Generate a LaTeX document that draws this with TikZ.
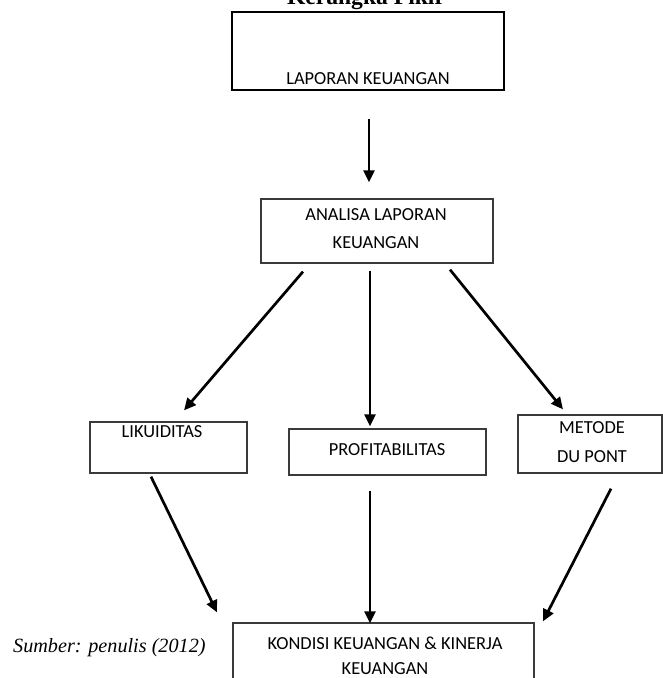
\documentclass[tikz,border=0pt]{standalone}
\usepackage{fontspec}
\setmainfont{Liberation Serif}
\newfontfamily\carl{Carlito}
\usetikzlibrary{arrows.meta,calc,positioning}
\definecolor{garis}{HTML}{3A3A3A}
\tikzset{box/.style={draw=garis, line width=1.3pt, inner sep=0pt}, arr/.style={-{Triangle[length=12pt,width=11pt]}, line width=2.7pt}, lbl/.style={font=\carl\fontsize{18.4}{28}\selectfont, align=center, inner sep=0pt}}

\begin{document}
\begin{tikzpicture}[x=1pt,y=-1pt]
\useasboundingbox (0,0) rectangle (663,678); \clip (0,0) rectangle (663,678);
\node[font=\bfseries\fontsize{23.6}{28}\selectfont, anchor=base] (judul) at (366,4) {Kerangka Pikir};
\node[box, draw=black, line width=1.8pt, minimum width=272pt, minimum height=78pt] (lap) at (368,51) {};
\node[lbl] (lapT) at (368,79) {LAPORAN KEUANGAN};
\node[box, minimum width=232pt, minimum height=64pt] (ana) at (377,231) {};
\node[lbl] (anaT) at (376,229) {ANALISA LAPORAN\\KEUANGAN};
\node[box, minimum width=157pt, minimum height=51pt] (lik) at (168.5,447.5) {};
\node[lbl] (likT) at (162,432) {LIKUIDITAS};
\node[box, minimum width=197pt, minimum height=46pt] (pro) at (387.5,452) {};
\node[lbl] (proT) at (387,450) {PROFITABILITAS};
\node[box, minimum width=144pt, minimum height=58pt] (met) at (590,444) {};
\node[lbl, font=\carl\fontsize{18.4}{29}\selectfont] (metT) at (592,442.5) {METODE\\DU PONT};
\node[box, minimum width=301pt, minimum height=80pt] (kon) at (383.5,663) {};
\node[lbl, font=\carl\fontsize{18.4}{25}\selectfont] (konT) at (385,655.5) {KONDISI KEUANGAN \& KINERJA\\KEUANGAN};
\node[font=\itshape\fontsize{20.2}{24}\selectfont, anchor=base west, inner sep=0pt] (sumber) at (13,652) {Sumber: penulis (2012)};
\draw[arr] ($(lap.south)+(1,28)$) -- ($(ana.north)+(-8,-16)$);
\draw[arr] ($(ana.south)+(-74,8)$) -- ($(lik.north)+(15.5,-11)$);
\draw[arr] ($(ana.south)+(-7,7)$) -- ($(pro.north)+(-17.5,-2)$);
\draw[arr] ($(ana.south)+(73,6)$) -- ($(met.north)+(-27,-5)$);
\draw[arr] ($(lik.south)+(-17.5,3)$) -- ($(kon.north)+(-166.5,-10)$);
\draw[arr] ($(pro.south)+(-17.5,15)$) -- ($(kon.north)+(-13.5,1)$);
\draw[arr] ($(met.south)+(21,15)$) -- ($(kon.north)+(159.5,-1)$);
\end{tikzpicture}
\end{document}
